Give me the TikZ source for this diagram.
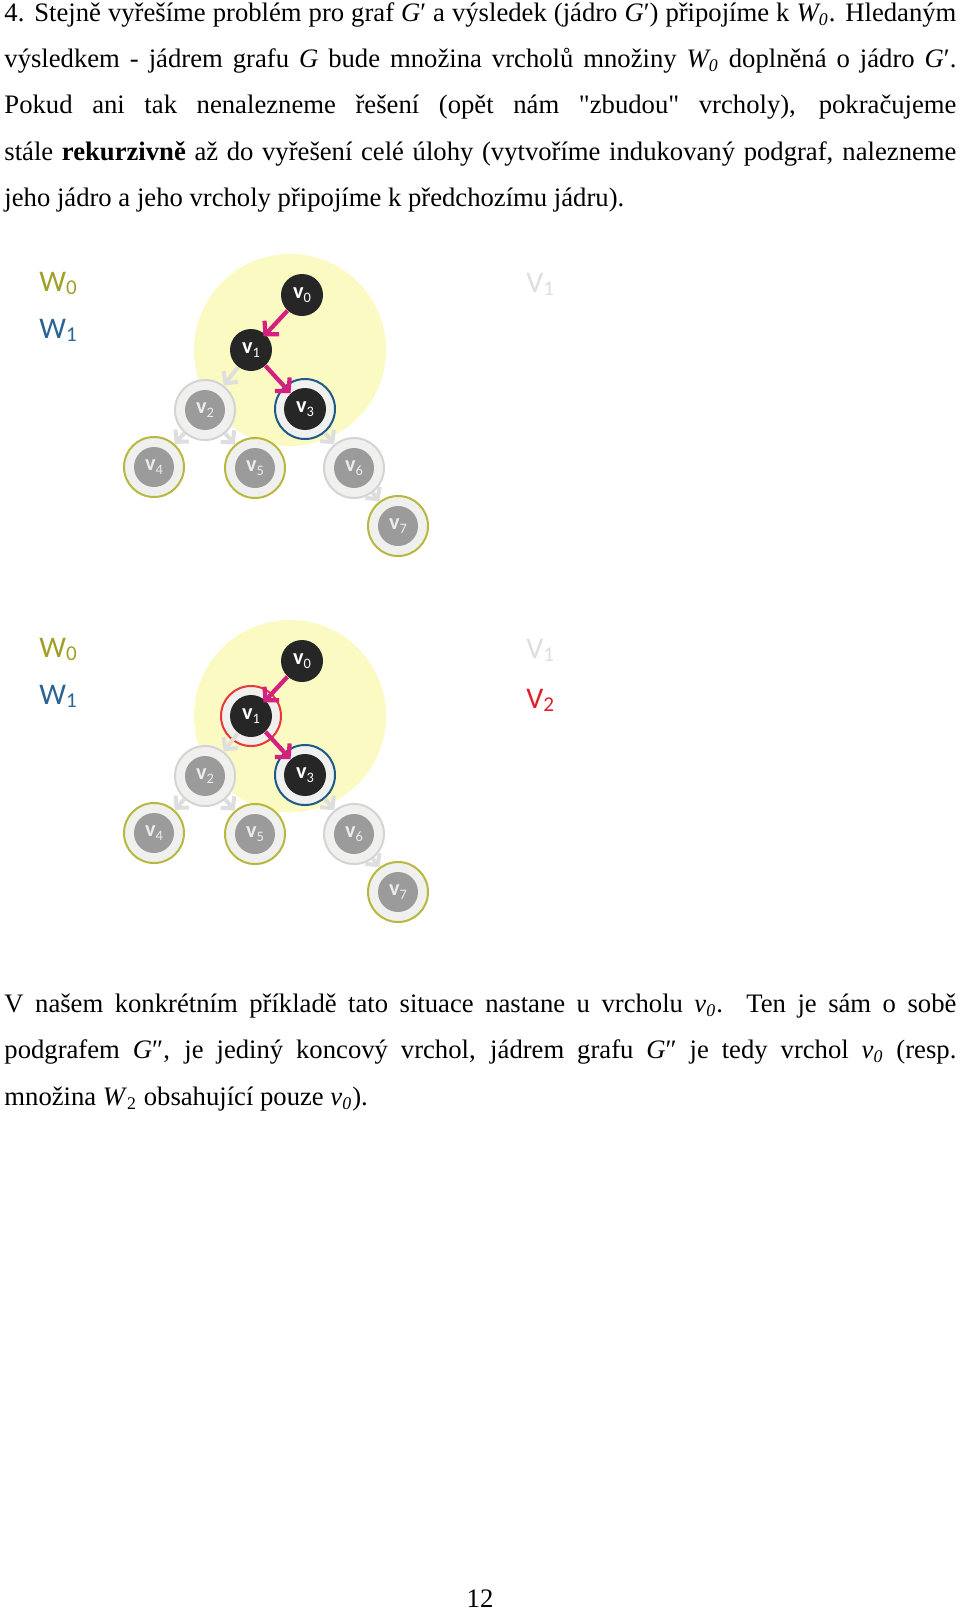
\documentclass[tikz,border=0pt]{standalone}
\usepackage{fontspec}
\setmainfont{Liberation Serif}
\newfontfamily\plainserif{Liberation Serif}[Ligatures=TeXOff]
\newfontfamily\carl{Carlito}
\usetikzlibrary{arrows.meta}
\definecolor{paleyellow}{RGB}{250,250,194}
\definecolor{nodeblack}{RGB}{38,38,38}
\definecolor{nodegray}{RGB}{155,155,155}
\definecolor{olivering}{RGB}{184,184,64}
\definecolor{olivetext}{RGB}{160,160,40}
\definecolor{blueset}{RGB}{42,100,150}
\definecolor{bluering}{RGB}{30,90,135}
\definecolor{magentaarrow}{RGB}{214,32,128}
\definecolor{grayarrow}{RGB}{222,222,222}
\definecolor{grayring}{RGB}{212,212,212}
\definecolor{halo}{RGB}{240,240,238}
\definecolor{redring}{RGB}{232,56,56}
\definecolor{redtext}{RGB}{228,30,40}
\definecolor{ghost}{RGB}{222,222,222}
\definecolor{graylabel}{RGB}{235,235,235}
\newcommand\vlab[1]{\textbf{v}\raisebox{-1.8pt}{\fontsize{6.5}{7}\selectfont #1}}
\newcommand\setlab[2]{#1\raisebox{-1.6pt}{\fontsize{9.5}{10}\selectfont #2}}
\tikzset{
  blk/.style={circle, fill=nodeblack, minimum size=18.9pt, inner sep=0pt, text=white, font=\carl\fontsize{10}{11}\selectfont},
  gry/.style={circle, fill=nodegray, minimum size=18pt, inner sep=0pt, text=graylabel, font=\carl\fontsize{10}{11}\selectfont},
  ringnode/.style={circle, minimum size=27pt, inner sep=0pt, fill=halo, draw=#1, line width=0.9pt},
  magarrow/.style={draw=magentaarrow, line width=1.9pt, -{Straight Barb[length=4.2pt,width=9pt]}},
  grayedge/.style={draw=grayarrow, line width=1.8pt, -{Straight Barb[length=3.8pt,width=8pt]}},
  txt/.style={anchor=base west, inner sep=0pt, font=\fontsize{12}{14}\selectfont},
  setlabel/.style={anchor=base west, inner sep=0pt, font=\carl\fontsize{13.5}{15}\selectfont},
}
\newcommand\drawtree[2]{%
  \fill[paleyellow] (290,350) circle[radius=43.2pt];
  \node[setlabel, text=olivetext] (w0#1) at (39,291) {\setlab{W}{0}};
  \node[setlabel, text=blueset] (w1#1) at (39,338) {\setlab{W}{1}};
  \node[setlabel, text=ghost] (g1#1) at (526,292) {\setlab{V}{1}};
  \node[ringnode=grayring] (r2#1) at (205,410) {};
  \node[ringnode=olivering] (r4#1) at (154,467) {};
  \node[ringnode=olivering] (r5#1) at (255,468) {};
  \node[ringnode=grayring] (r6#1) at (354,468) {};
  \node[ringnode=olivering] (r7#1) at (398,526) {};
  \node[ringnode=bluering] (r3#1) at (305,409) {};
  #2
  \node[blk] (v0#1) at (302,295) {\vlab0};
  \node[blk] (v1#1) at (251,350) {\vlab1};
  \node[blk] (v3#1) at (305,409) {\vlab3};
  \node[gry] (v2#1) at (205,410) {\vlab2};
  \node[gry] (v4#1) at (154,467) {\vlab4};
  \node[gry] (v5#1) at (255,468) {\vlab5};
  \node[gry] (v6#1) at (354,468) {\vlab6};
  \node[gry] (v7#1) at (398,526) {\vlab7};
  \draw[magarrow, shorten >=-1.35pt] (v0#1) -- (v1#1);
  \draw[magarrow] (v1#1) -- (v3#1);
  \draw[grayedge] (v1#1) -- (r2#1);
  \draw[grayedge] (r2#1) -- (r4#1);
  \draw[grayedge] (r2#1) -- (r5#1);
  \draw[grayedge] (r3#1) -- (r6#1);
  \draw[grayedge] (r6#1) -- (r7#1);
}
\begin{document}
\begin{tikzpicture}[x=0.45pt, y=-0.45pt]
\fill[white] (0,0) rectangle (960,1610);
\useasboundingbox (0,0) rectangle (960,1610);
% paragraph 1
\node[txt] (l1) at (4,21.5) {\makebox[428.4pt][s]{4. Stejně vyřešíme problém pro graf \textit{G}′ a výsledek (jádro \textit{G}′) připojíme k \textit{W\textsubscript{0}}. Hledaným}};
\node[txt] (l2) at (4,67.7) {\makebox[428.4pt][s]{výsledkem - jádrem grafu \textit{G} bude množina vrcholů množiny \textit{W\textsubscript{0}} doplněná o jádro \textit{G}′.}};
\node[txt] (l3) at (4,113.9) {\makebox[428.4pt][s]{Pokud ani tak nenalezneme řešení (opět nám {\plainserif"}zbudou{\plainserif"} vrcholy), pokračujeme}};
\node[txt] (l4) at (4,160.1) {\makebox[428.4pt][s]{stále \textbf{rekurzivně} až do vyřešení celé úlohy (vytvoříme indukovaný podgraf, nalezneme}};
\node[txt] (l5) at (4,206.3) {jeho jádro a jeho vrcholy připojíme k předchozímu jádru).};
% diagrams
\drawtree{a}{}
\begin{scope}[yshift=-164.7pt]
\drawtree{b}{\node[ringnode=redring] (r1b) at (251,350) {};}
\node[setlabel, text=redtext] (g2b) at (526,342) {\setlab{V}{2}};
\end{scope}
% paragraph 2
\node[txt] (m1) at (4,1012) {\makebox[428.4pt][s]{V našem konkrétním příkladě tato situace nastane u vrcholu \textit{v\textsubscript{0}}. Ten je sám o sobě}};
\node[txt] (m2) at (4,1058.5) {\makebox[428.4pt][s]{podgrafem \textit{G}″, je jediný koncový vrchol, jádrem grafu \textit{G}″ je tedy vrchol \textit{v\textsubscript{0}} (resp.}};
\node[txt] (m3) at (4,1105) {množina \textit{W}\textsubscript{2} obsahující pouze \textit{v\textsubscript{0}}).};
\node[anchor=base, inner sep=0pt, font=\fontsize{12}{14}\selectfont] (pg) at (480,1607) {12};
\end{tikzpicture}
\end{document}
